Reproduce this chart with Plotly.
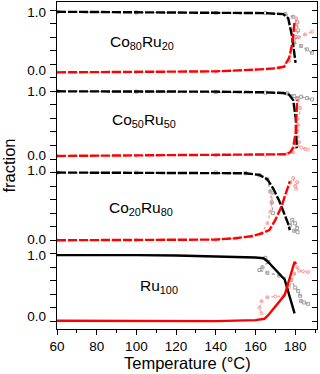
import plotly.graph_objects as go

# ---------------- data (fraction vs temperature, one panel per alloy) ----------------
panel_names = ["Co80Ru20", "Co50Ru50", "Co20Ru80", "Ru100"]
panel_offsets = [3.6, 2.4, 1.2, 0.0]
panel_labels = ["Co<sub>80</sub>Ru<sub>20</sub>", "Co<sub>50</sub>Ru<sub>50</sub>",
                "Co<sub>20</sub>Ru<sub>80</sub>", "Ru<sub>100</sub>"]
label_T = [102.9, 103.7, 102.2, 111.2]
label_f = [0.528, 0.576, 0.462, 0.510]

# Co80Ru20
co80_T_black = [60, 100, 140, 165, 174, 176.5, 178.5, 179.5, 180.2]
co80_f_black = [0.975, 0.965, 0.96, 0.955, 0.94, 0.88, 0.6, 0.35, 0.22]
co80_T_red = [60, 100, 140, 160, 170, 174.5, 177, 178.5, 179.7]
co80_f_red = [0.08, 0.085, 0.095, 0.12, 0.14, 0.165, 0.3, 0.5, 0.83]
co80_T_gray = [60, 100, 140, 165, 175, 179, 181, 181.5, 180.5, 179.5, 183, 186, 188.5]
co80_f_gray = [0.97, 0.965, 0.96, 0.955, 0.94, 0.9, 0.82, 0.7, 0.6, 0.52, 0.47, 0.42, 0.37]
co80_T_pink = [60, 100, 140, 160, 172, 177, 178.5, 180, 181, 180.5, 179, 182, 185, 188.5]
co80_f_pink = [0.08, 0.085, 0.095, 0.12, 0.15, 0.25, 0.45, 0.7, 0.82, 0.88, 0.55, 0.6, 0.64, 0.68]

# Co50Ru50
co50_T_black = [60, 100, 140, 165, 174, 177, 179, 180.3, 180.6, 180.8]
co50_f_black = [1.0, 1.0, 0.995, 0.985, 0.975, 0.95, 0.87, 0.6, 0.3, 0.16]
co50_T_red = [60, 100, 140, 165, 175, 177.5, 179, 180.3, 180.8, 181]
co50_f_red = [0.045, 0.05, 0.055, 0.06, 0.07, 0.1, 0.17, 0.4, 0.7, 0.87]
co50_T_gray = [60, 100, 140, 165, 176, 179.5, 181, 183, 186, 188.5]
co50_f_gray = [1.0, 0.995, 0.99, 0.98, 0.97, 0.93, 0.9, 0.92, 0.9, 0.88]
co50_T_pink = [60, 100, 140, 165, 176, 179, 182, 181.5, 182.5, 181.5, None, 181, 183, 185, 186.5]
co50_f_pink = [0.045, 0.05, 0.055, 0.06, 0.08, 0.1, 0.25, 0.5, 0.75, 0.88, None, 0.2, 0.17, 0.15, 0.14]

# Co20Ru80
co20_T_black = [60, 100, 140, 155, 162, 166, 169, 172, 176.4, 177.3]
co20_f_black = [1.0, 1.0, 1.0, 0.99, 0.965, 0.9, 0.76, 0.58, 0.25, 0.15]
co20_T_red = [60, 100, 140, 150, 158, 163, 167, 170, 173, 176.4, 177.3]
co20_f_red = [0.0, 0.005, 0.01, 0.03, 0.06, 0.1, 0.15, 0.3, 0.49, 0.79, 0.87]
co20_T_gray = [60, 100, 140, 155, 162, 166, 167.5, 168.2, 168.8, None, 177.5, 178.5, 180, 181, 179.5, 181.2]
co20_f_gray = [1.0, 1.0, 1.0, 0.99, 0.96, 0.9, 0.72, 0.56, 0.4, None, 0.22, 0.3, 0.25, 0.18, 0.14, 0.12]
co20_T_pink = [60, 100, 140, 150, 158, 163, 166, 167.5, 168.2, 168.5, None, 177.5, 179, 180, 181, 180.5]
co20_f_pink = [0.0, 0.005, 0.01, 0.03, 0.06, 0.1, 0.25, 0.42, 0.55, 0.7, None, 0.85, 0.92, 0.8, 0.86, 0.76]

# Ru100
ru_T_black = [60, 80, 100, 120, 140, 160, 164, 166, 174.7, 179.7]
ru_f_black = [0.98, 0.985, 0.98, 0.975, 0.965, 0.945, 0.935, 0.89, 0.62, 0.12]
ru_T_red = [60, 100, 120, 140, 160, 164.5, 166.3, 174.7, 179.7, 180.5]
ru_f_red = [0.01, 0.005, 0.0, 0.005, 0.02, 0.04, 0.09, 0.39, 0.88, 0.85]
ru_T_gray = [165, 166.5, 163.5, 162, 166, 172, 178, 180, 181.5, 182.5, 183, 184.5, 186.5]
ru_f_gray = [0.94, 0.88, 0.8, 0.76, 0.72, 0.68, 0.61, 0.5, 0.45, 0.38, 0.3, 0.28, 0.26]
ru_T_pink = [163, 162, 163, 166, 170, 174, 177, 179.5, 181, 182, 184, 186.5]
ru_f_pink = [0.12, 0.2, 0.3, 0.36, 0.37, 0.38, 0.5, 0.7, 0.8, 0.75, 0.74, 0.73]

panels = [
    (co80_T_black, co80_f_black, co80_T_red, co80_f_red, co80_T_gray, co80_f_gray, co80_T_pink, co80_f_pink),
    (co50_T_black, co50_f_black, co50_T_red, co50_f_red, co50_T_gray, co50_f_gray, co50_T_pink, co50_f_pink),
    (co20_T_black, co20_f_black, co20_T_red, co20_f_red, co20_T_gray, co20_f_gray, co20_T_pink, co20_f_pink),
    (ru_T_black, ru_f_black, ru_T_red, ru_f_red, ru_T_gray, ru_f_gray, ru_T_pink, ru_f_pink),
]

x_ticks = [60, 80, 100, 120, 140, 160, 180]
y_label_vals = [4.572, 3.708, 3.397, 2.452, 2.238, 1.211, 0.982, 0.074]
y_label_text = ["1.0", "0.0", "1.0", "0.0", "1.0", "0.0", "1.0", "0.0"]
y_mark_vals = [round(0.2 * i, 1) for i in range(24)]

FONT = "Arial, Liberation Sans, sans-serif"


def shift(vals, off):
    return [None if v is None else v + off for v in vals]


fig = go.Figure()
for i, (Tb, fb, Tr, fr, Tg, fg, Tp, fp) in enumerate(panels):
    off = panel_offsets[i]
    dash = "solid" if i == 3 else "9px,2px"
    fig.add_trace(go.Scatter(x=Tg, y=shift(fg, off), mode="lines+markers",
                             line=dict(color="#a0a0a0", width=1.3, dash="dot"),
                             marker=dict(symbol="square-open", size=3, color="#a0a0a0", line=dict(width=1)),
                             connectgaps=False, showlegend=False))
    fig.add_trace(go.Scatter(x=Tp, y=shift(fp, off), mode="lines+markers",
                             line=dict(color="#ff9a9a", width=1.3, dash="dot"),
                             marker=dict(symbol="circle-open", size=3, color="#ff9a9a", line=dict(width=1)),
                             connectgaps=False, showlegend=False))
    fig.add_trace(go.Scatter(x=Tb, y=shift(fb, off), mode="lines",
                             line=dict(color="black", width=2.4, dash=dash), showlegend=False))
    fig.add_trace(go.Scatter(x=Tr, y=shift(fr, off), mode="lines",
                             line=dict(color="#ff0000", width=2.4, dash=dash), showlegend=False))
    fig.add_annotation(x=label_T[i], y=label_f[i] + off, xref="x", yref="y",
                       text=panel_labels[i], showarrow=False,
                       font=dict(family=FONT, size=15.5, color="black"),
                       xanchor="center", yanchor="middle")

# y axis title
fig.add_annotation(x=-0.188, y=0.5, xref="paper", yref="paper", text="fraction",
                   textangle=-90, showarrow=False, xanchor="center", yanchor="middle",
                   font=dict(family=FONT, size=16.5, color="black"))
# x axis title
fig.add_annotation(x=0.5, y=-0.105, xref="paper", yref="paper", text="Temperature (°C)",
                   showarrow=False, xanchor="center", yanchor="middle",
                   font=dict(family=FONT, size=16.5, color="black"))

# invisible traces to anchor overlay axes
fig.add_trace(go.Scatter(x=[100], y=[1], yaxis="y2", mode="markers", marker=dict(opacity=0),
                         showlegend=False, hoverinfo="skip"))
fig.add_trace(go.Scatter(x=[100], y=[1], yaxis="y3", mode="markers", marker=dict(opacity=0),
                         showlegend=False, hoverinfo="skip"))

yrange = [-0.1108, 4.7194]
fig.update_layout(
    width=320, height=374,
    margin=dict(l=57, r=3, t=2, b=45, autoexpand=False),
    paper_bgcolor="white", plot_bgcolor="white",
    showlegend=False,
    font=dict(family=FONT, color="black"),
    xaxis=dict(range=[60, 191], tickvals=x_ticks, ticks="outside", ticklen=5, tickwidth=1,
               tickcolor="black", showline=True, linecolor="black", linewidth=1, mirror=True,
               showgrid=False, zeroline=False, tickfont=dict(size=13.5, family=FONT),
               minor=dict(dtick=10, tick0=60, ticks="outside", ticklen=3, tickcolor="black", showgrid=False)),
    yaxis=dict(range=yrange, tickvals=y_mark_vals, ticktext=[""] * len(y_mark_vals),
               ticks="outside", ticklen=6, tickwidth=1, tickcolor="black",
               showline=True, linecolor="black", linewidth=1, showgrid=False, zeroline=False),
    yaxis2=dict(range=yrange, overlaying="y", side="left", tickvals=y_label_vals, ticktext=y_label_text,
                ticks="", showline=False, showgrid=False, zeroline=False,
                tickfont=dict(size=13.5, family=FONT), ticklabelstandoff=10),
    yaxis3=dict(range=yrange, overlaying="y", side="right", tickvals=y_mark_vals,
                showticklabels=False, ticks="inside", ticklen=5, tickwidth=1, tickcolor="black",
                showline=True, linecolor="black", linewidth=1, showgrid=False, zeroline=False),
)

fig.write_html("out.html", config={"displayModeBar": False},
               post_script="document.body.style.margin='0';document.body.style.overflow='hidden';")
